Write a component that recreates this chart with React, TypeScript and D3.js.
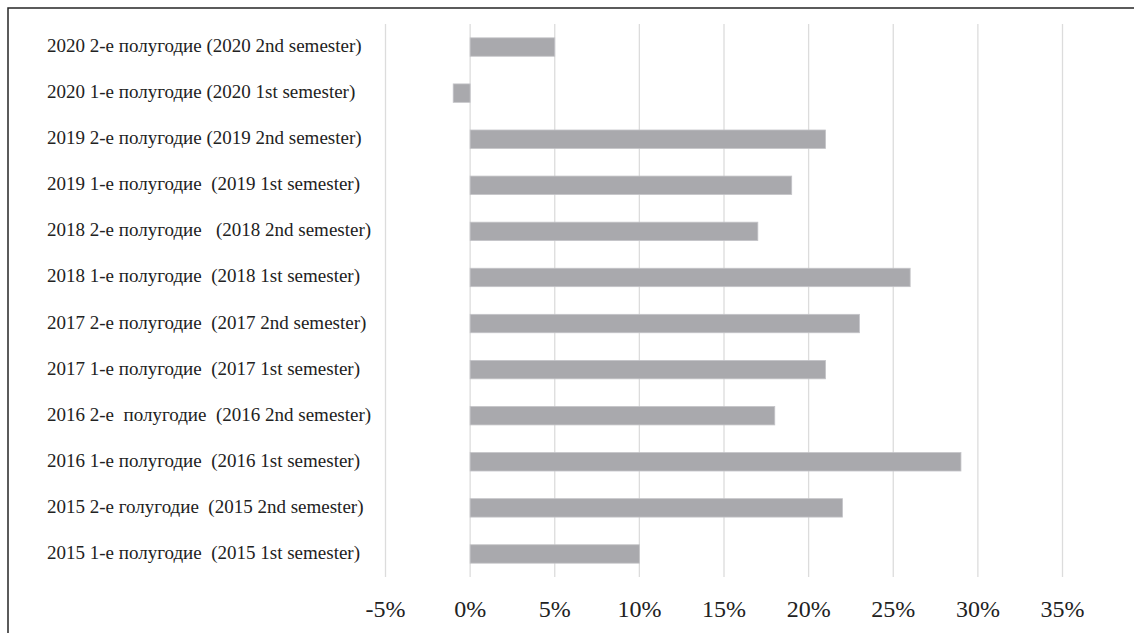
import React, { useRef, useEffect } from "react";
import * as d3 from "d3";

// categories, top to bottom as in the chart
const periods = [
  "2020 2-е полугодие (2020 2nd semester)",
  "2020 1-е полугодие (2020 1st semester)",
  "2019 2-е полугодие (2019 2nd semester)",
  "2019 1-е полугодие  (2019 1st semester)",
  "2018 2-е полугодие   (2018 2nd semester)",
  "2018 1-е полугодие  (2018 1st semester)",
  "2017 2-е полугодие  (2017 2nd semester)",
  "2017 1-е полугодие  (2017 1st semester)",
  "2016 2-е  полугодие  (2016 2nd semester)",
  "2016 1-е полугодие  (2016 1st semester)",
  "2015 2-е голугодие  (2015 2nd semester)",
  "2015 1-е полугодие  (2015 1st semester)",
];

const growth = [0.05, -0.01, 0.21, 0.19, 0.17, 0.26, 0.23, 0.21, 0.18, 0.29, 0.22, 0.1];

const xTicks = [-0.05, 0, 0.05, 0.1, 0.15, 0.2, 0.25, 0.3, 0.35];

const FONT = "'Liberation Serif', 'Times New Roman', serif";

const App = () => {
  const svgRef = useRef<SVGSVGElement>(null);

  useEffect(() => {
    const svg = d3.select(svgRef.current);
    svg.selectAll("*").remove();

    const xScale = d3.scaleLinear().domain([-0.05, 0.35]).range([385.5, 1062.5]);
    const yScale = d3
      .scaleBand()
      .domain(periods)
      .range([24, 577])
      .paddingInner(0.6)
      .paddingOuter(0.3);

    // frame (only top and left edges show in the crop)
    svg
      .append("path")
      .attr("d", "M8,633 L8,8 L1134,8")
      .attr("fill", "none")
      .attr("stroke", "#262626")
      .attr("stroke-width", 1.5);

    // vertical gridlines
    svg
      .append("g")
      .selectAll("line")
      .data(xTicks)
      .join("line")
      .attr("x1", (d) => xScale(d))
      .attr("x2", (d) => xScale(d))
      .attr("y1", 24)
      .attr("y2", 577)
      .attr("stroke", "#dcdcdc")
      .attr("stroke-width", 1.3);

    // bars
    svg
      .append("g")
      .selectAll("rect")
      .data(growth)
      .join("rect")
      .attr("x", (d) => xScale(Math.min(0, d)))
      .attr("y", (d, i) => yScale(periods[i]))
      .attr("width", (d) => Math.abs(xScale(d) - xScale(0)))
      .attr("height", yScale.bandwidth())
      .attr("fill", "#a9a9ad")
      .attr("stroke", "#c4c4c8")
      .attr("stroke-width", 0.8);

    // category labels
    svg
      .append("g")
      .selectAll("text")
      .data(periods)
      .join("text")
      .attr("x", 47)
      .attr("y", (d) => yScale(d) + yScale.bandwidth() / 2 + 5)
      .attr("font-family", FONT)
      .attr("font-size", 19)
      .attr("fill", "#222")
      .style("white-space", "pre")
      .text((d) => d);

    // x tick labels (plain hyphen for the minus, as in the original)
    svg
      .append("g")
      .selectAll("text")
      .data(xTicks)
      .join("text")
      .attr("x", (d) => xScale(d))
      .attr("y", 617)
      .attr("text-anchor", "middle")
      .attr("font-family", FONT)
      .attr("font-size", 24)
      .attr("fill", "#222")
      .text((d) => `${Math.round(d * 100)}%`);
  }, []);

  return (
    <svg
      ref={svgRef}
      width={1134}
      height={633}
      style={{ position: "absolute", left: 0, top: 0, background: "#fff" }}
    ></svg>
  );
};

export default App;
